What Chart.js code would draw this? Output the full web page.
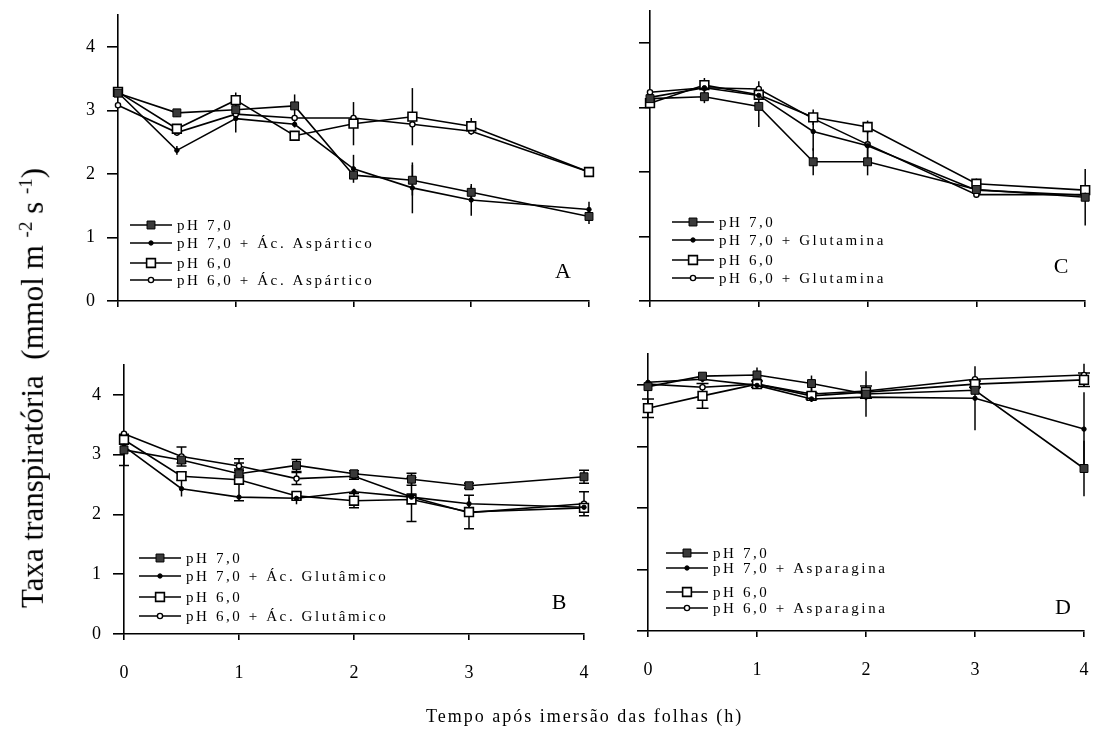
<!DOCTYPE html>
<html>
<head>
<meta charset="utf-8">
<script src="https://cdn.jsdelivr.net/npm/chart.js@4.4.1/dist/chart.umd.min.js"></script>
<style>
  body { margin: 0; background: #fff; }
  #wrap { position: relative; width: 1093px; height: 748px; overflow: hidden; background: #fff; }
  #wrap canvas { position: absolute; left: 0; top: 0; }
  .ytitle {
    position: absolute; left: 33px; top: 388px;
    font-family: "Liberation Serif", serif; font-size: 31px; white-space: nowrap;
    transform: translate(-50%, -50%) rotate(-90deg);
  }
  .ytitle sup { font-size: 19px; }
  .xtitle {
    position: absolute; left: 426px; top: 706px;
    font-family: "Liberation Serif", serif; font-size: 18px; letter-spacing: 2px; white-space: nowrap;
  }
</style>
</head>
<body>
<div id="wrap">
  <canvas id="chartA" width="1093" height="748"></canvas>
  <canvas id="chartB" width="1093" height="748"></canvas>
  <canvas id="chartC" width="1093" height="748"></canvas>
  <canvas id="chartD" width="1093" height="748"></canvas>
  <div class="ytitle">Taxa transpiratória&nbsp; (mmol m <sup>-2</sup> s <sup>-1</sup>)</div>
  <div class="xtitle">Tempo após imersão das folhas (h)</div>
</div>
<script>
// time points (h)
var hoursAB = [0, 0.5, 1, 1.5, 2, 2.5, 3, 4];
var hoursCD = [0, 0.5, 1, 1.5, 2, 3, 4];
var xTicks = [0, 1, 2, 3, 4];
var yTicks = [0, 1, 2, 3, 4];

// A - acido aspartico
var labelsA = ['pH 7,0', 'pH 7,0 + Ác. Aspártico', 'pH 6,0', 'pH 6,0 + Ác. Aspártico'];
var a70 = [3.27, 2.96, 3.01, 3.07, 1.98, 1.90, 1.71, 1.33];
var a70err = [0, 0.06, 0.05, 0.18, 0.05, 0.24, 0.10, 0.12];
var a70asp = [3.28, 2.37, 2.87, 2.78, 2.08, 1.78, 1.59, 1.44];
var a70aspErr = [0, 0.07, 0.22, 0.05, 0.22, 0.40, 0.25, 0.12];
var a60 = [3.29, 2.71, 3.16, 2.60, 2.79, 2.90, 2.75, 2.03];
var a60err = [0, 0.05, 0.12, 0.04, 0.34, 0.45, 0.13, 0.03];
var a60asp = [3.08, 2.65, 2.94, 2.88, 2.88, 2.78, 2.67, 2.03];
var a60aspErr = [0, 0.05, 0.05, 0.05, 0.05, 0.05, 0.05, 0];

// B - acido glutamico
var labelsB = ['pH 7,0', 'pH 7,0 + Ác. Glutâmico', 'pH 6,0', 'pH 6,0 + Ác. Glutâmico'];
var b70 = [3.08, 2.91, 2.68, 2.82, 2.68, 2.59, 2.48, 2.63];
var b70err = [0.26, 0.05, 0.05, 0.10, 0.05, 0.10, 0.04, 0.11];
var b70glu = [3.14, 2.43, 2.29, 2.27, 2.38, 2.29, 2.18, 2.12];
var b70gluErr = [0, 0.13, 0.03, 0.10, 0.05, 0.05, 0.10, 0.05];
var b60 = [3.25, 2.64, 2.58, 2.31, 2.23, 2.25, 2.04, 2.11];
var b60err = [0, 0.07, 0.35, 0.05, 0.12, 0.37, 0.28, 0.05];
var b60glu = [3.35, 2.97, 2.81, 2.60, 2.64, 2.29, 2.03, 2.18];
var b60gluErr = [0, 0.16, 0.05, 0.10, 0.05, 0.05, 0.05, 0.20];

// C - glutamina
var labelsC = ['pH 7,0', 'pH 7,0 + Glutamina', 'pH 6,0', 'pH 6,0 + Glutamina'];
var c70 = [3.14, 3.17, 3.02, 2.16, 2.16, 1.73, 1.61];
var c70err = [0, 0.10, 0.32, 0.21, 0.21, 0.05, 0.44];
var c70glu = [3.16, 3.31, 3.19, 2.63, 2.41, 1.72, 1.64];
var c70gluErr = [0, 0.05, 0.05, 0.30, 0.05, 0.05, 0.05];
var c60 = [3.07, 3.35, 3.20, 2.85, 2.70, 1.82, 1.72];
var c60err = [0, 0.11, 0.05, 0.12, 0.10, 0.08, 0.05];
var c60glu = [3.24, 3.31, 3.29, 2.83, 2.43, 1.65, 1.65];
var c60gluErr = [0, 0.05, 0.12, 0.05, 0.30, 0.05, 0.05];

// D - asparagina
var labelsD = ['pH 7,0', 'pH 7,0 + Asparagina', 'pH 6,0', 'pH 6,0 + Asparagina'];
var d70 = [3.97, 4.14, 4.16, 4.02, 3.85, 3.91, 2.64];
var d70err = [0.05, 0.05, 0.12, 0.13, 0.37, 0.05, 0.45];
var d70asn = [4.04, 4.09, 3.99, 3.77, 3.80, 3.78, 3.28];
var d70asnErr = [0, 0.05, 0.05, 0.05, 0.05, 0.52, 0.60];
var d60 = [3.62, 3.82, 4.01, 3.82, 3.88, 4.01, 4.08];
var d60err = [0.15, 0.20, 0.05, 0.05, 0.10, 0.05, 0.11];
var d60asn = [4.01, 3.96, 4.01, 3.85, 3.90, 4.09, 4.16];
var d60asnErr = [0, 0.05, 0.05, 0.13, 0.05, 0.05, 0.18];

var SERIF = '"Liberation Serif", "Times New Roman", serif';

// marker styles for the 4 treatments (same order in every panel)
var markers = [
  { pointStyle: 'rect', pointRadius: 5.6, pointBackgroundColor: '#3a3a3a', pointBorderWidth: 1 },
  { pointStyle: 'circle', pointRadius: 2.2, pointBackgroundColor: '#000', pointBorderWidth: 1 },
  { pointStyle: 'rect', pointRadius: 6.2, pointBackgroundColor: '#fff', pointBorderWidth: 1.6 },
  { pointStyle: 'circle', pointRadius: 2.6, pointBackgroundColor: '#fff', pointBorderWidth: 1.4 }
];

function toPoints(xs, ys) {
  return xs.map(function (x, i) { return { x: x, y: ys[i] }; });
}

function makeDatasets(xs, labels, values, errs, caps) {
  return values.map(function (v, i) {
    return Object.assign({
      label: labels[i],
      data: toPoints(xs, v),
      errors: errs[i],
      capWidth: caps[i],
      borderColor: '#000',
      borderWidth: 1.6,
      pointBorderColor: '#000',
      tension: 0,
      clip: false
    }, markers[i]);
  });
}

// vertical error bars, drawn below lines and markers
var errorBars = {
  id: 'errorBars',
  beforeDatasetsDraw: function (chart) {
    var ctx = chart.ctx;
    var xs = chart.scales.x, ys = chart.scales.y;
    ctx.save();
    ctx.strokeStyle = '#000';
    ctx.lineWidth = 1.5;
    chart.data.datasets.forEach(function (ds) {
      ds.data.forEach(function (p, i) {
        var e = ds.errors[i];
        if (!e) return;
        var px = xs.getPixelForValue(p.x);
        var top = ys.getPixelForValue(p.y + e);
        var bot = ys.getPixelForValue(p.y - e);
        ctx.beginPath();
        ctx.moveTo(px, top); ctx.lineTo(px, bot);
        if (ds.capWidth) {
          var w = ds.capWidth / 2;
          ctx.moveTo(px - w, top); ctx.lineTo(px + w, top);
          ctx.moveTo(px - w, bot); ctx.lineTo(px + w, bot);
        }
        ctx.stroke();
      });
    });
    ctx.restore();
  }
};

function drawMarker(ctx, ds, x, y) {
  ctx.fillStyle = ds.pointBackgroundColor;
  ctx.strokeStyle = '#000';
  ctx.lineWidth = ds.pointBorderWidth;
  ctx.beginPath();
  if (ds.pointStyle === 'rect') {
    var s = ds.pointRadius * Math.SQRT1_2;
    ctx.rect(x - s, y - s, 2 * s, 2 * s);
  } else {
    ctx.arc(x, y, ds.pointRadius, 0, Math.PI * 2);
  }
  ctx.fill();
  ctx.stroke();
}

// legend inside the plot, bottom-left, plus panel letter
var panelLegend = {
  id: 'panelLegend',
  afterDatasetsDraw: function (chart, args, opts) {
    var ctx = chart.ctx, area = chart.chartArea;
    ctx.save();
    chart.data.datasets.forEach(function (ds, i) {
      var y = area.bottom - opts.rows[i];
      var x0 = area.left + opts.dx;
      ctx.strokeStyle = '#000';
      ctx.lineWidth = 1.6;
      ctx.beginPath();
      ctx.moveTo(x0, y); ctx.lineTo(x0 + 42, y);
      ctx.stroke();
      drawMarker(ctx, ds, x0 + 21, y);
      ctx.fillStyle = '#000';
      ctx.font = '15px ' + SERIF;
      ctx.letterSpacing = '2.6px';
      ctx.textBaseline = 'middle';
      ctx.textAlign = 'left';
      ctx.fillText(ds.label, x0 + 47, y + 1);
    });
    ctx.letterSpacing = '0px';
    ctx.font = '22px ' + SERIF;
    ctx.textAlign = 'center';
    ctx.textBaseline = 'middle';
    ctx.fillText(opts.letter, area.right - opts.letterDx, area.bottom - opts.letterDy);
    ctx.restore();
  }
};

// keep the plot area exactly where the layout padding puts it
function noEdgePadding(s) {
  s.paddingTop = 0; s.paddingBottom = 0; s.paddingLeft = 0; s.paddingRight = 0;
}

function panel(id, box, datasets, showY, showX, leg) {
  new Chart(document.getElementById(id), {
    type: 'line',
    data: { datasets: datasets },
    plugins: [errorBars, panelLegend],
    options: {
      responsive: false,
      animation: false,
      devicePixelRatio: 1,
      layout: {
        padding: { left: box.l - 60, right: 1093 - box.r, top: box.t, bottom: 748 - box.b - 50 }
      },
      plugins: {
        legend: { display: false },
        tooltip: { enabled: false },
        panelLegend: leg
      },
      scales: {
        x: {
          type: 'linear', min: 0, max: 4,
          afterFit: function (s) { s.height = 50; noEdgePadding(s); },
          afterBuildTicks: function (s) { s.ticks = xTicks.map(function (v) { return { value: v }; }); },
          border: { display: true, color: '#000', width: 1.6 },
          grid: { drawOnChartArea: false, drawTicks: true, tickLength: 6, color: '#000', lineWidth: 1.6 },
          ticks: {
            autoSkip: false, padding: 22, color: '#000', maxRotation: 0,
            font: { family: SERIF, size: 18 },
            callback: function (v) { return showX ? String(v) : ''; }
          }
        },
        y: {
          type: 'linear', min: 0, max: 4.5,
          afterFit: function (s) { s.width = 60; noEdgePadding(s); },
          afterBuildTicks: function (s) { s.ticks = yTicks.map(function (v) { return { value: v }; }); },
          border: { display: true, color: '#000', width: 1.6 },
          grid: { drawOnChartArea: false, drawTicks: true, tickLength: 11, color: '#000', lineWidth: 1.6 },
          ticks: {
            padding: 12, color: '#000',
            font: { family: SERIF, size: 18 },
            callback: function (v) { return showY ? String(v) : ''; }
          }
        }
      }
    }
  });
}

panel('chartA', { l: 118, r: 589, t: 15, b: 301 },
  makeDatasets(hoursAB, labelsA, [a70, a70asp, a60, a60asp], [a70err, a70aspErr, a60err, a60aspErr], [0, 0, 0, 0]),
  true, false, { rows: [76, 58, 38, 21], dx: 12, letter: 'A', letterDx: 26, letterDy: 29 });

panel('chartB', { l: 124, r: 584, t: 365, b: 634 },
  makeDatasets(hoursAB, labelsB, [b70, b70glu, b60, b60glu], [b70err, b70gluErr, b60err, b60gluErr], [10, 0, 10, 10]),
  true, true, { rows: [76, 58, 37, 18], dx: 15, letter: 'B', letterDx: 25, letterDy: 31 });

panel('chartC', { l: 650, r: 1086, t: 11, b: 301 },
  makeDatasets(hoursCD, labelsC, [c70, c70glu, c60, c60glu], [c70err, c70gluErr, c60err, c60gluErr], [0, 0, 0, 0]),
  false, false, { rows: [79, 61, 41, 23], dx: 22, letter: 'C', letterDx: 24, letterDy: 34 });

panel('chartD', { l: 648, r: 1084, t: 354, b: 631 },
  makeDatasets(hoursCD, labelsD, [d70, d70asn, d60, d60asn], [d70err, d70asnErr, d60err, d60asnErr], [0, 0, 12, 0]),
  false, true, { rows: [78, 63, 39, 23], dx: 18, letter: 'D', letterDx: 21, letterDy: 23 });
</script>
</body>
</html>
